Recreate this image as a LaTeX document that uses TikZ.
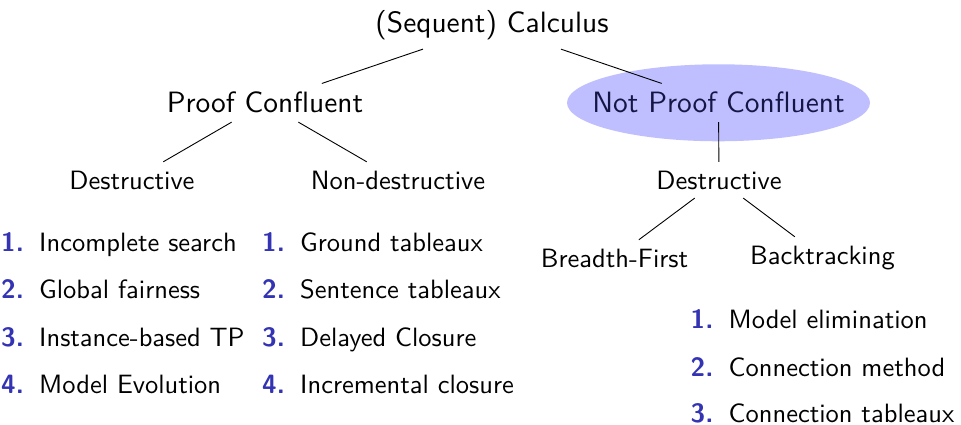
\documentclass[tikz,border=0pt]{standalone}
\usepackage{fontspec}
\setsansfont{lmsans10-regular.otf}[BoldFont=lmsans10-bold.otf]
\usetikzlibrary{backgrounds}

\definecolor{structure}{RGB}{51,51,179}
\definecolor{npctext}{RGB}{22,22,70}
\definecolor{npcfill}{RGB}{191,191,255}

\newcommand{\fsnormal}{\fontsize{26.5}{32}\selectfont}
\newcommand{\fslarge}{\fontsize{29.4}{35}\selectfont}
\newcommand{\enumlabel}[1]{\makebox[38pt][l]{\textcolor{structure}{\bfseries #1}}}

\tikzset{
  treenode/.style={anchor=base, inner sep=8.6pt, font=\sffamily\fsnormal},
  bignode/.style={treenode, font=\sffamily\fslarge},
  itemrow/.style={anchor=base west, inner sep=0pt, font=\sffamily\fsnormal},
  edge/.style={line width=0.9pt},
}

\begin{document}
\begin{tikzpicture}[x=1pt, y=-1pt]
  \useasboundingbox (0,0) rectangle (961,425);

  % tree nodes
  \node[bignode] (cal) at (492,33)   {(Sequent) Calculus};
  \node[bignode] (pc)  at (265,113)  {Proof Confluent};
  \node[bignode, text=npctext] (npc) at (718.5,113) {Not Proof Confluent};
  \node[treenode] (d1) at (132,189)  {Destructive};
  \node[treenode] (nd) at (398,189)  {Non-destructive};
  \node[treenode] (d2) at (719,189)  {Destructive};
  \node[treenode] (bf) at (614.5,267) {Breadth-First};
  \node[treenode] (bt) at (822.5,264) {Backtracking};

  % highlight behind the non-confluent branch
  \begin{scope}[on background layer]
    \fill[npcfill] (npc.center) ellipse [x radius=151.5pt, y radius=38.5pt];
  \end{scope}

  % edges
  \draw[edge] (cal) -- (pc);
  \draw[edge] (cal) -- (npc);
  \draw[edge] (pc) -- (d1);
  \draw[edge] (pc) -- (nd);
  \draw[edge] (npc) -- (d2);
  \draw[edge] (d2) -- (bf);
  \draw[edge] (d2) -- (bt);

  % destructive, proof confluent
  \node[itemrow] (a1) at (1,251) {\enumlabel{1.}Incomplete search};
  \node[itemrow] (a2) at (1,298) {\enumlabel{2.}Global fairness};
  \node[itemrow] (a3) at (1,346) {\enumlabel{3.}Instance-based TP};
  \node[itemrow] (a4) at (1,393) {\enumlabel{4.}Model Evolution};

  % non-destructive
  \node[itemrow] (b1) at (262,251) {\enumlabel{1.}Ground tableaux};
  \node[itemrow] (b2) at (262,298) {\enumlabel{2.}Sentence tableaux};
  \node[itemrow] (b3) at (262,346) {\enumlabel{3.}Delayed Closure};
  \node[itemrow] (b4) at (262,393) {\enumlabel{4.}Incremental closure};

  % backtracking
  \node[itemrow] (c1) at (690.5,328) {\enumlabel{1.}Model elimination};
  \node[itemrow] (c2) at (690.5,376) {\enumlabel{2.}Connection method};
  \node[itemrow] (c3) at (690.5,422.5) {\enumlabel{3.}Connection tableaux};
\end{tikzpicture}
\end{document}
